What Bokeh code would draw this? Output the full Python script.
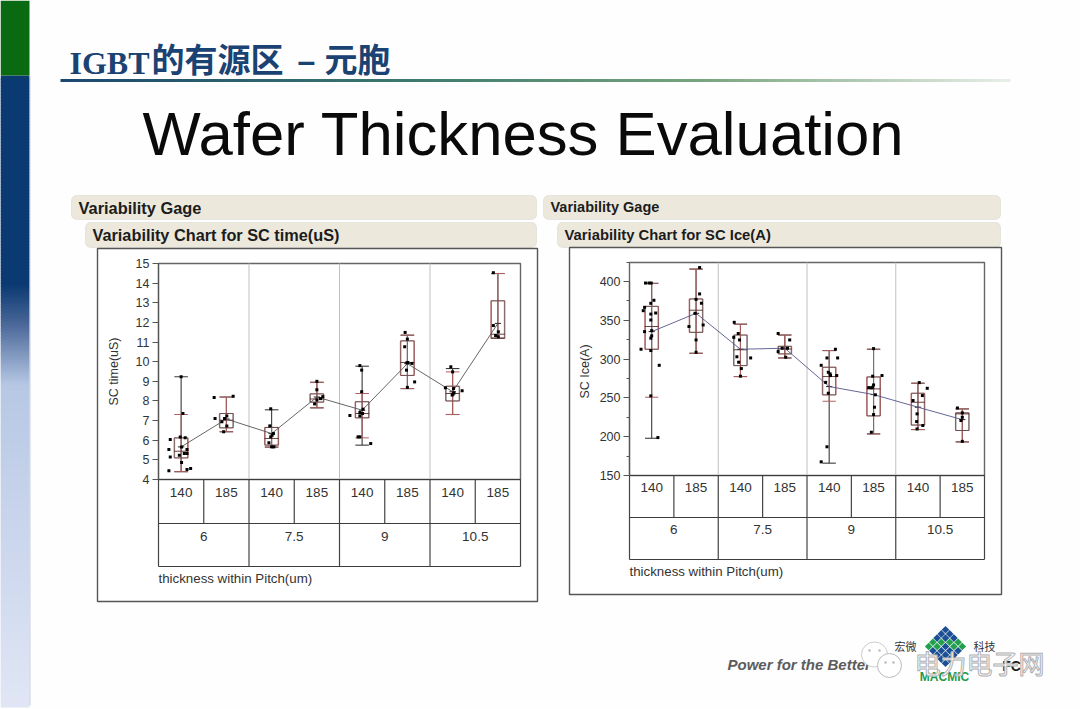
import numpy as np
from bokeh.plotting import figure
from bokeh.embed import file_html
from bokeh.resources import INLINE
from bokeh.core.properties import value
from bokeh.models import Range1d, LinearAxis, FixedTicker, BoxAnnotation

# ---------- data ----------
thickness = ["140", "185"]
pitch = ["6", "7.5", "9", "10.5"]
tick_labels = thickness * 4

# SC time(uS)
t_q1 = [5.10, 6.63, 5.75, 7.94, 7.14, 9.30, 8.00, 11.18]
t_med = [5.44, 7.02, 6.09, 8.10, 7.36, 9.96, 8.38, 11.40]
t_q3 = [6.12, 7.36, 6.65, 8.36, 7.96, 11.06, 8.75, 13.10]
t_wlo = [4.40, 6.43, 5.65, 7.65, 6.12, 8.63, 7.31, 11.20]
t_whi = [7.31, 8.20, 6.65, 8.95, 8.38, 11.35, 9.48, 14.49]
t_min = [4.40, 6.43, 5.65, 7.65, 5.75, 8.63, 7.31, 11.20]
t_max = [9.23, 8.20, 7.55, 8.95, 9.77, 11.35, 9.65, 14.49]
t_mean = [5.66, 7.08, 6.34, 8.20, 7.53, 9.90, 8.47, 11.95]
t_px = [
    [-.24, -.27, -.24, -.27, .13, .21, .04, 0, -.02, .09, .13, .07, .13, -.04, .01, .01],
    [-.27, .15, -.25, .01, -.04, -.10, .01, -.06],
    [-.02, -.04, .04, -.02, -.06, .05, 0, .01],
    [0, 0, .13, 0, -.05, .08],
    [-.05, -.01, -.01, -.27, .02, -.05, .01, -.05, -.09, -.05, .19],
    [-.05, 0, -.06, .01, -.01, .10, -.02, .16, 0],
    [-.04, 0, -.16, .02, .21, .03, .01, -.01],
    [-.10, -.10, .01, -.05, .01],
]
t_py = [
    [6.04, 5.53, 5.15, 4.44, 4.51, 4.56, 7.36, 9.23, 6.17, 6.12, 5.53, 5.32, 5.32, 5.24, 5.66, 4.87],
    [8.18, 8.24, 7.11, 7.24, 7.11, 6.94, 6.73, 6.43],
    [7.60, 6.73, 6.34, 6.17, 5.87, 5.66, 5.66, 6.25],
    [9.00, 8.57, 8.22, 8.05, 7.85, 8.12],
    [9.80, 9.57, 8.47, 7.26, 7.58, 7.41, 7.36, 7.24, 6.17, 6.17, 5.83],
    [11.49, 11.15, 10.76, 9.96, 9.94, 9.91, 9.57, 8.97, 8.69],
    [9.74, 9.48, 8.67, 8.63, 8.52, 8.41, 8.35, 8.30],
    [14.53, 11.84, 11.52, 11.33, 11.27],
]

# SC Ice(A)
i_q1 = [312.7, 334.5, 291.6, 306.7, 253.9, 226.8, 215.0, 208.0]
i_med = [342.0, 363.0, 312.0, 313.0, 277.5, 261.6, 244.4, 229.4]
i_q3 = [368.0, 377.5, 331.0, 316.5, 289.5, 277.0, 256.0, 230.7]
i_wlo = [250.9, 307.5, 277.5, 301.5, 245.7, 203.6, 209.2, 193.3]
i_whi = [397.6, 416.0, 345.0, 331.0, 311.0, 312.7, 268.9, 235.8]
i_min = [198.0, 307.5, 277.5, 301.5, 165.9, 203.6, 209.2, 193.3]
i_max = [397.6, 416.0, 345.0, 331.0, 311.0, 312.7, 268.9, 235.8]
i_mean = [335.4, 359.0, 312.7, 314.0, 264.6, 254.3, 238.0, 222.0]
i_px = [
    [-.14, -.06, -.01, .05, -.02, -.16, -.19, -.02, .09, -.02, -.16, 0, 0, -.02, -.24, -.02, .17, -.02, .14],
    [.08, .08, .12, 0, -.02, .16, -.16, 0, 0],
    [-.14, -.05, -.15, -.02, -.08, .23, -.04, .02, 0],
    [-.15, .11, -.06, .06, -.15, .02],
    [.14, .19, -.05, -.18, -.02, .02, .03, .17, -.08, -.02, -.05, -.18],
    [0, .19, -.02, 0, -.02, -.11, -.05, .04, .02, 0, -.05],
    [.03, .21, .10, -.11, -.02, -.03, .11, -.02],
    [-.11, 0, 0, -.03, 0],
]
i_py = [
    [398, 398, 398, 375.8, 371.9, 366.7, 362.4, 358, 359.4, 350.4, 335.4, 336.7, 330, 327, 312.7, 311, 292, 252.6, 198.9],
    [418, 384, 372, 377, 359, 344, 342, 324.7, 308.8],
    [347.4, 333, 328, 324.7, 303, 301.5, 296, 287.8, 278],
    [333, 324.7, 314, 314, 309.7, 302.4],
    [312.7, 301.5, 301.5, 292, 283, 281, 278.8, 278.8, 270, 256, 187, 167.6],
    [313.5, 278.8, 278, 266.7, 263.7, 263.3, 263, 254, 238, 228.5, 205.8],
    [269.7, 262.4, 253, 246.6, 229.4, 219.5, 214.4, 210],
    [237, 230.7, 225, 220.8, 194],
]

# ---------- page ----------
W, H = 1080, 709
p = figure(width=W, height=H, output_backend="svg", toolbar_location=None,
           x_range=Range1d(0, W), y_range=Range1d(H, 0),
           min_border=0, min_border_left=0, min_border_right=0, min_border_top=0,
           min_border_bottom=0, outline_line_color=None,
           background_fill_color="#fefefe", border_fill_color="#fefefe",
           x_axis_type=None, y_axis_type=None)
p.grid.visible = False

SANS = value("Liberation Sans")
CJK = value("Noto Sans CJK SC")


def lerp(stops, t):
    for (a, ca), (b, cb) in zip(stops, stops[1:]):
        if t <= b:
            f = (t - a) / (b - a)
            c = [int(round(x + (y - x) * f)) for x, y in zip(ca, cb)]
            return "#%02x%02x%02x" % tuple(c)
    return "#%02x%02x%02x" % tuple(stops[-1][1])


# sidebar
side = [(75, (11, 58, 114)), (283, (11, 58, 114)), (320, (70, 100, 150)),
        (383, (183, 200, 228)), (705, (224, 230, 245))]
ys = np.arange(75, 703, 3)
p.quad(left=0, right=29, top=ys, bottom=ys + 5,
       fill_color=[lerp(side, float(v)) for v in ys], line_color=None)
p.quad(left=[0], right=[29], top=[0], bottom=[75], fill_color="#0a6a12", line_color=None)
p.quad(left=[29], right=[30], top=[75], bottom=[705], fill_color="#c8d0dc", line_color=None)

# rule under the header
rule = [(60, (28, 72, 112)), (400, (60, 120, 110)), (700, (120, 165, 125)), (1014, (235, 240, 235))]
xs = np.arange(60, 1008, 6)
p.quad(left=xs, right=xs + 8, top=78.5, bottom=81.5,
       fill_color=[lerp(rule, float(v)) for v in xs], line_color=None)

# titles
p.text([69], [62], text=["IGBT"], text_font=value("Liberation Serif"), text_font_style="bold",
       text_font_size="32px", text_color="#1a4272", text_baseline="alphabetic")
p.text([151], [57], text=["的有源区"], text_font=CJK, text_font_style="bold",
       text_font_size="33px", text_color="#1a4272", text_baseline="alphabetic")
p.text([297], [60], text=["–"], text_font=SANS, text_font_style="bold",
       text_font_size="32px", text_color="#1a4272", text_baseline="alphabetic")
p.text([324], [57], text=["元胞"], text_font=CJK, text_font_style="bold",
       text_font_size="33px", text_color="#1a4272", text_baseline="alphabetic")
p.text([142], [133], text=["Wafer Thickness Evaluation"], text_font=SANS,
       text_font_size="61.7px", text_color="#0a0a0a", text_baseline="alphabetic")

# header bars
for l, r, t, b in [(71, 536, 195, 219), (85, 536, 222, 247), (543, 1000, 195, 219), (557, 1000, 222, 247)]:
    p.add_layout(BoxAnnotation(left=l, right=r, top=t, bottom=b, border_radius=5, fill_color="#ece9dc",
                               fill_alpha=1, line_color="#c4c4b8", line_width=1, level="underlay"))
for x, y, s, fs in [(78, 207, "Variability Gage", "16.4px"), (92, 234.5, "Variability Chart for SC time(uS)", "16.3px"),
                    (550, 206.5, "Variability Gage", "14.5px"), (564, 234.5, "Variability Chart for SC Ice(A)", "14.8px")]:
    p.text([x], [y], text=[s], text_font=SANS, text_font_style="bold", text_font_size=fs,
           text_color="#1c1c1c", text_baseline="middle")


def panel(name, box, frame, row1, row2, y_lo, y_hi, y_ticks, minor, ylabel, label_xy, table,
          q1, med, q3, wlo, whi, lo, hi, mean, px, py, mean_col):
    bl, br, bt, bb = box
    fl, fr, ft, fb = frame
    p.quad(left=[bl], right=[br], top=[bt], bottom=[bb], fill_color="white", line_color="#555555", line_width=1.4)
    cw = (fr - fl) / 8
    xr, yr = "x" + name, "y" + name
    unit = (fb - y_hi[1]) / (y_hi[0] - y_lo)
    p.extra_x_ranges[xr] = Range1d(-fl / cw, (W - fl) / cw)
    p.extra_y_ranges[yr] = Range1d(y_lo - (H - fb) / unit, y_lo + fb / unit)

    # frame and table lines
    p.quad(left=[fl], right=[fr], top=[ft], bottom=[fb], fill_color=None, line_color="#666666", line_width=1.4)
    main = [2, 4, 6]
    p.segment(x0=main, x1=main, y0=ft, y1=fb, x_range_name=xr, line_color="#c0c0c0", line_width=1)
    all_cuts = list(range(0, 9))
    p.segment(x0=[0, 0, 0], x1=[8, 8, 8], y0=[fb, row1, row2], y1=[fb, row1, row2], x_range_name=xr,
              line_color="#3c3c3c", line_width=1.2)
    p.segment(x0=all_cuts, x1=all_cuts, y0=fb, y1=[row2 if i % 2 == 0 else row1 for i in all_cuts],
              x_range_name=xr, line_color="#444444", line_width=1.2)

    # y axis
    ya = LinearAxis(y_range_name=yr, fixed_location=fl, bounds=(y_lo, y_ticks[-1] if minor else y_hi[0]),
                    ticker=FixedTicker(ticks=y_ticks, minor_ticks=minor),
                    major_label_text_font="Liberation Sans", major_label_text_font_size="12.5px",
                    major_label_text_color="#333333", major_label_standoff=3,
                    axis_line_color="#555555", axis_line_width=1.2, major_tick_line_color="#555555",
                    minor_tick_line_color="#555555", major_tick_out=6, major_tick_in=0, minor_tick_out=3, minor_tick_in=0)
    p.add_layout(ya, "left")
    p.text([label_xy[0]], [label_xy[1]], text=[ylabel], angle=np.pi / 2, text_font=SANS, text_font_size="12.5px",
           text_color="#333333", text_align="center", text_baseline="middle")

    # table labels through axes
    centers = [i + .5 for i in range(8)]
    xa = LinearAxis(x_range_name=xr, fixed_location=fb, ticker=FixedTicker(ticks=centers),
                    major_label_overrides=dict(zip(centers, tick_labels)),
                    major_label_text_font="Liberation Sans", major_label_text_font_size="13.5px",
                    major_label_text_color="#333333", major_label_standoff=table, axis_line_color=None,
                    major_tick_line_color=None, minor_tick_line_color=None)
    p.add_layout(xa, "below")
    gcenters = [1.0, 3.0, 5.0, 7.0]
    xb = LinearAxis(x_range_name=xr, fixed_location=row1, ticker=FixedTicker(ticks=gcenters),
                    major_label_overrides=dict(zip(gcenters, pitch)),
                    major_label_text_font="Liberation Sans", major_label_text_font_size="13.5px",
                    major_label_text_color="#333333", major_label_standoff=table, axis_line_color=None,
                    major_tick_line_color=None, minor_tick_line_color=None)
    p.add_layout(xb, "below")
    p.text([fl], [row2 + 12], text=["thickness within Pitch(um)"], text_font=SANS, text_font_size="13.3px",
           text_color="#333333", text_baseline="middle")

    # marks
    c = np.arange(8) + .5
    kw = dict(x_range_name=xr, y_range_name=yr)
    bw, cap = .155, .15
    p.segment(c, lo, c, hi, line_color="#3a3a3a", line_width=1.1, **kw)
    p.segment(c - cap, lo, c + cap, lo, line_color="#3a3a3a", line_width=1.1, **kw)
    p.segment(c - cap, hi, c + cap, hi, line_color="#3a3a3a", line_width=1.1, **kw)
    p.segment(c, wlo, c, whi, line_color="#b06060", line_width=1, **kw)
    p.segment(c - cap, wlo, c + cap, wlo, line_color="#b06060", line_width=1, **kw)
    p.segment(c - cap, whi, c + cap, whi, line_color="#b06060", line_width=1, **kw)
    p.quad(c - bw, c + bw, q3, q1, fill_color=None, line_color="#b86a6a", line_width=1, **kw)
    p.quad(c - bw + .012, c + bw - .012, q3, q1, fill_color=None, line_color="#3a3a3a", line_width=.6, **kw)
    p.segment(c - bw, med, c + bw, med, line_color="#5a2a2a", line_width=.9, **kw)
    p.segment(c - .07, mean, c + .07, mean, line_color="#222222", line_width=1, **kw)
    p.line(c, mean, line_color=mean_col, line_width=.9, **kw)
    sx, sy = [], []
    for i in range(8):
        sx += [c[i] + v for v in px[i]]
        sy += list(py[i])
    p.scatter(sx, sy, marker="square", size=3, fill_color="#000000", line_color=None, **kw)


panel("1", (97, 537, 248, 601), (158, 520, 263, 479), 523, 566, 4, (15, 263),
      list(range(4, 16)), [], "SC time(uS)", (113, 371), 2,
      t_q1, t_med, t_q3, t_wlo, t_whi, t_min, t_max, t_mean, t_px, t_py, "#555555")
panel("2", (569, 1001, 247, 594), (629, 984, 262, 475), 517, 559, 150, (400, 281),
      [150, 200, 250, 300, 350, 400], [175, 225, 275, 325, 375, 425], "SC Ice(A)", (584, 371), 1,
      i_q1, i_med, i_q3, i_wlo, i_whi, i_min, i_max, i_mean, i_px, i_py, "#55558a")

# footer
p.text([727], [664], text=["Power for the Better"], text_font=SANS, text_font_style="bold italic",
       text_font_size="15px", text_color="#5c5c5c", text_baseline="middle")
p.text([905], [645], text=["宏微"], text_font=CJK, text_font_size="11px", text_color="#333333",
       text_align="center", text_baseline="middle")
p.text([984], [645], text=["科技"], text_font=CJK, text_font_size="11px", text_color="#333333",
       text_align="center", text_baseline="middle")
dx, dy = np.meshgrid(np.arange(5), np.arange(5))
gx = 945 + (dx - dy).ravel() * 4.2
gy = 625 + 4.2 + (dx + dy).ravel() * 4.2
gc = ["#22a04e" if (a + b) in (3, 4) and a != b else "#1d4f95" for a, b in zip(dx.ravel(), dy.ravel())]
p.rect(gx, gy, width=5.4, height=5.4, angle=np.pi / 4, fill_color=gc, line_color=None)
p.text([944], [676], text=["MACMIC"], text_font=SANS, text_font_style="bold", text_font_size="12px",
       text_color="#1f9a4a", text_align="center", text_baseline="middle")
p.ellipse([874], [654], width=26, height=25, fill_color="#ffffff", line_color="#cccccc", line_width=1)
p.ellipse([889], [665], width=24, height=24, fill_color="#ffffff", line_color="#bbbbbb", line_width=1)
p.scatter([869, 879, 885, 893], [650, 650, 662, 662], marker="circle", size=2.5, fill_color="#bbbbbb", line_color=None)
p.text([1011], [665], text=["FC"], text_font=SANS, text_font_style="bold", text_font_size="14px",
       text_color="#222222", text_align="center", text_baseline="middle")
p.text([914], [662], text=["电力电子网"], text_font=CJK, text_font_size="26px", text_color="#ffffff",
       text_outline_color="#b0b0b0", text_baseline="middle")

open("out.html", "w").write(file_html(p, INLINE))
